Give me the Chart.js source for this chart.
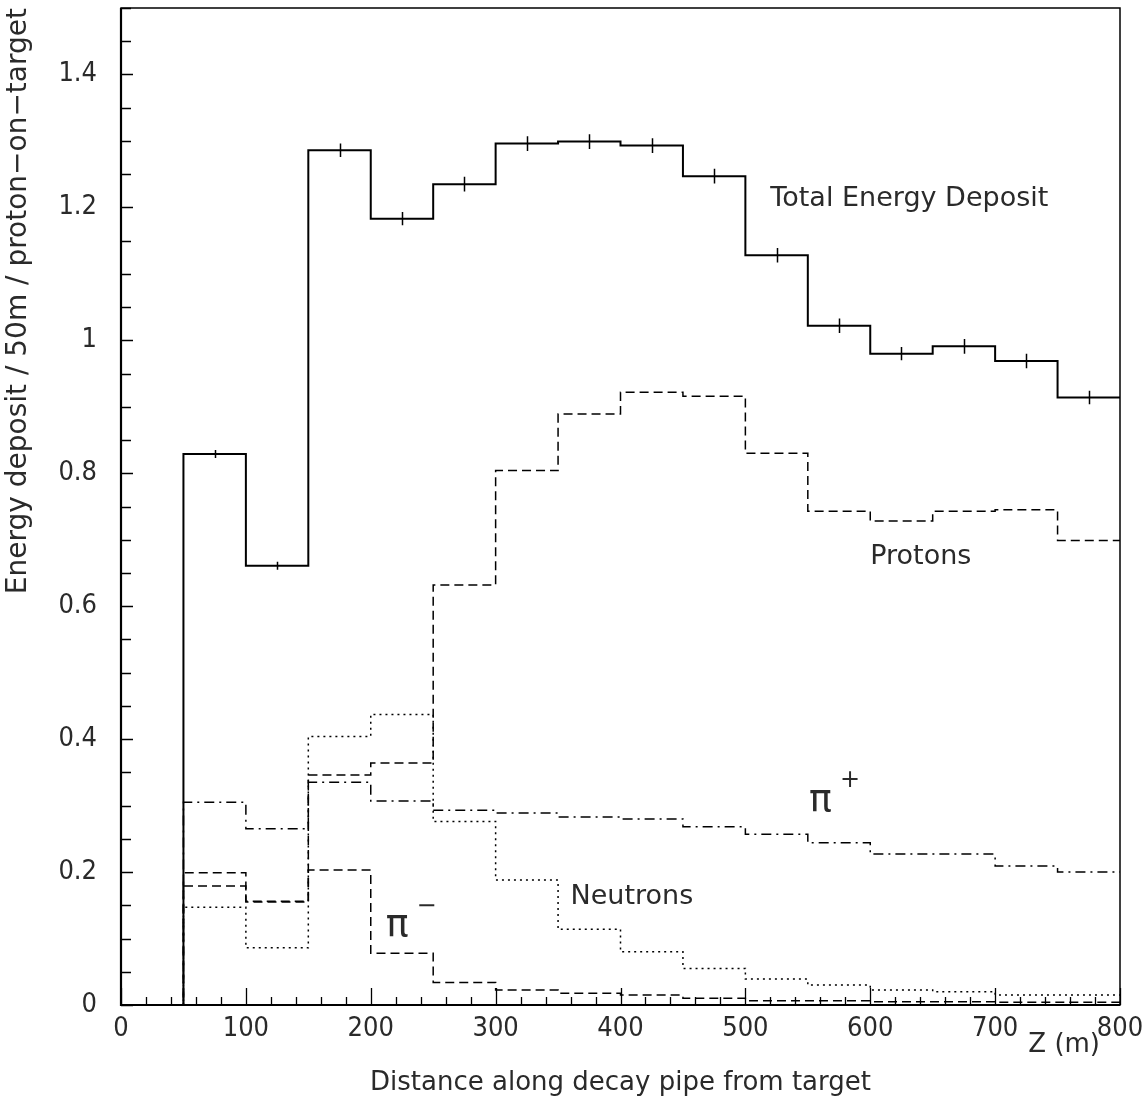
<!DOCTYPE html>
<html>
<head>
<meta charset="utf-8">
<script src="https://cdn.jsdelivr.net/npm/chart.js@4.4.1/dist/chart.umd.min.js"></script>
<style>
  html, body { margin: 0; padding: 0; background: #fff; }
</style>
</head>
<body>
<canvas id="depositChart" width="1148" height="1105"></canvas>
<script>
  'use strict';

  // bin edges along the decay pipe (m)
  var binEdges = [0, 50, 100, 150, 200, 250, 300, 350, 400, 450, 500, 550, 600, 650, 700, 750, 800];

  // energy deposit per 50 m bin, per proton on target
  var totalDeposit = [0, 0.829, 0.661, 1.286, 1.183, 1.235, 1.296, 1.299, 1.293, 1.247, 1.128, 1.022, 0.980, 0.991, 0.969, 0.914];
  var totalErrors  = [0, 0.006, 0.006, 0.010, 0.010, 0.011, 0.011, 0.011, 0.011, 0.011, 0.011, 0.011, 0.010, 0.011, 0.011, 0.010];
  var protons  = [0, 0.179, 0.156, 0.346, 0.364, 0.632, 0.804, 0.889, 0.922, 0.916, 0.830, 0.743, 0.728, 0.743, 0.745, 0.699];
  var piPlus   = [0, 0.305, 0.265, 0.335, 0.307, 0.293, 0.289, 0.283, 0.280, 0.268, 0.257, 0.244, 0.227, 0.227, 0.209, 0.200];
  var neutrons = [0, 0.147, 0.086, 0.404, 0.437, 0.276, 0.188, 0.114, 0.080, 0.055, 0.039, 0.030, 0.0225, 0.020, 0.015, 0.015];
  var piMinus  = [0, 0.199, 0.155, 0.203, 0.078, 0.034, 0.0225, 0.0175, 0.015, 0.010, 0.0065, 0.0065, 0.005, 0.005, 0.004, 0.004];

  var xTicks = [0, 100, 200, 300, 400, 500, 600, 700, 800];
  var yTicks = [0, 0.2, 0.4, 0.6, 0.8, 1, 1.2, 1.4];

  var FONT = "'DejaVu Sans', sans-serif";
  var NUMFONT = "'Liberation Sans Narrow', 'DejaVu Sans Condensed', 'DejaVu Sans', sans-serif";
  var INK = '#2a2a2a';

  // turn bin contents into step points (last edge repeats the last value)
  function toSteps(vals) {
    var pts = [];
    for (var i = 0; i < vals.length; i++) pts.push({ x: binEdges[i], y: vals[i] });
    pts.push({ x: binEdges[binEdges.length - 1], y: vals[vals.length - 1] });
    return pts;
  }

  function histSet(label, vals, width, dash) {
    return {
      label: label,
      data: toSteps(vals),
      stepped: 'before',
      borderColor: '#000',
      borderWidth: width,
      borderDash: dash,
      pointRadius: 0,
      fill: false,
      clip: false
    };
  }

  // text placed in data coordinates
  var annotations = [
    { text: 'Total Energy Deposit', x: 520, y: 1.213, size: 27 },
    { text: 'Protons', x: 600, y: 0.674, size: 27 },
    { text: 'Neutrons', x: 360, y: 0.162, size: 27 },
    { text: 'π', sup: '+', x: 551, y: 0.307, size: 38 },
    { text: 'π', sup: '−', x: 212, y: 0.118, size: 38 }
  ];

  var frameAndTicks = {
    id: 'frameAndTicks',
    afterDatasetsDraw: function(chart) {
      var c = chart.ctx, a = chart.chartArea;
      var xs = chart.scales.x, ys = chart.scales.y;
      c.save();
      c.strokeStyle = '#000';

      // frame
      c.lineWidth = 1.5;
      c.strokeRect(a.left, a.top, a.right - a.left, a.bottom - a.top);
      c.lineWidth = 2.2;
      c.beginPath();
      c.moveTo(a.left, a.top); c.lineTo(a.left, a.bottom); c.lineTo(a.right, a.bottom);
      c.stroke();

      // inward ticks
      c.lineWidth = 1.3;
      c.beginPath();
      for (var k = 0; k <= 30; k++) {
        var py = Math.round(ys.getPixelForValue(k * 0.05)) + 0.5;
        var len = (k % 4 === 0) ? 12 : 10;
        c.moveTo(a.left, py); c.lineTo(a.left + len, py);
      }
      for (var m = 0; m <= 40; m++) {
        var px = Math.round(xs.getPixelForValue(m * 20)) + 0.5;
        var tl = (m % 5 === 0) ? 17 : 8;
        c.moveTo(px, a.bottom); c.lineTo(px, a.bottom - tl);
      }
      c.stroke();

      // error bars on the total
      c.lineWidth = 1.5;
      c.beginPath();
      for (var i = 0; i < totalDeposit.length; i++) {
        if (!totalErrors[i]) continue;
        var cx = Math.round(xs.getPixelForValue((binEdges[i] + binEdges[i + 1]) / 2)) + 0.5;
        c.moveTo(cx, ys.getPixelForValue(totalDeposit[i] - totalErrors[i]));
        c.lineTo(cx, ys.getPixelForValue(totalDeposit[i] + totalErrors[i]));
      }
      c.stroke();

      // labels
      c.fillStyle = INK;
      c.textBaseline = 'middle';
      c.textAlign = 'left';
      annotations.forEach(function(t) {
        var tx = xs.getPixelForValue(t.x), ty = ys.getPixelForValue(t.y);
        c.font = t.size + 'px ' + FONT;
        c.fillText(t.text, tx, ty);
        if (t.sup) {
          var w = c.measureText(t.text).width;
          c.font = '24px ' + FONT;
          c.fillText(t.sup, tx + w + 8, ty - 20);
        }
      });

      // axis unit at the right end
      c.font = '26px ' + FONT;
      c.textAlign = 'right';
      c.fillText('Z (m)', a.right - 20, a.bottom + 40);
      c.restore();
    }
  };

  var ctx = document.getElementById('depositChart').getContext('2d');
  var depositChart = new Chart(ctx, {
    type: 'line',
    data: {
      datasets: [
        histSet('Total Energy Deposit', totalDeposit, 2, []),
        histSet('Protons', protons, 1.5, [9, 5]),
        histSet('π+', piPlus, 1.5, [10, 5, 2, 5]),
        histSet('Neutrons', neutrons, 1.5, [2, 4]),
        histSet('π−', piMinus, 1.5, [9, 5])
      ]
    },
    options: {
      responsive: false,
      animation: false,
      devicePixelRatio: 1,
      layout: { padding: { top: 8, right: 28, left: 0, bottom: 0 } },
      plugins: { legend: { display: false }, tooltip: { enabled: false } },
      scales: {
        x: {
          type: 'linear',
          min: 0,
          max: 800,
          grid: { display: false, drawTicks: false },
          border: { display: false },
          afterBuildTicks: function(s) { s.ticks = xTicks.map(function(v) { return { value: v }; }); },
          afterFit: function(s) { s.height = 100; s.paddingLeft = 0; s.paddingRight = 0; },
          ticks: { color: INK, font: { family: NUMFONT, size: 27 }, padding: 8, maxRotation: 0, autoSkip: false },
          title: {
            display: true,
            text: 'Distance along decay pipe from target',
            color: INK,
            font: { family: FONT, size: 26 },
            padding: { top: 0, bottom: 6 }
          }
        },
        y: {
          type: 'linear',
          min: 0,
          max: 1.5,
          grid: { display: false, drawTicks: false },
          border: { display: false },
          afterBuildTicks: function(s) { s.ticks = yTicks.map(function(v) { return { value: v }; }); },
          afterFit: function(s) { s.width = 121; s.paddingTop = 0; s.paddingBottom = 0; },
          ticks: {
            color: INK,
            font: { family: NUMFONT, size: 27 },
            padding: 24,
            callback: function(v) { return String(+v.toFixed(1)); }
          },
          title: {
            display: true,
            text: 'Energy deposit / 50m / proton−on−target',
            align: 'end',
            color: INK,
            font: { family: FONT, size: 28 },
            padding: { top: 2, bottom: 0 }
          }
        }
      }
    },
    plugins: [frameAndTicks]
  });
</script>
</body>
</html>
